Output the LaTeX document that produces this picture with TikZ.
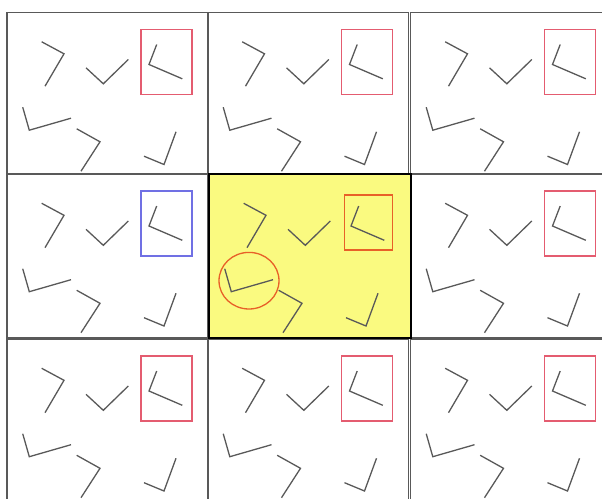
\documentclass[tikz,border=0pt]{standalone}
\usepackage{tikz}

\definecolor{boxred}{RGB}{228,92,112}
\definecolor{boxblue}{RGB}{112,112,228}
\definecolor{hitorange}{RGB}{232,96,40}
\definecolor{lightyellow}{RGB}{250,250,128}

\begin{document}
\begin{tikzpicture}[x=1pt, y=-1pt,
      frame/.style={draw=black!65, line width=1.5pt},
      stroke/.style={draw=black!65, line width=1.3pt},
      hitbox/.style={draw=#1, line width=1.3pt},
      scene/.pic={
        % the six bent sticks, same in every panel
        \draw[stroke] (34.7,29.3) -- (57,41.3) -- (38,73.7);
        \draw[stroke] (79,55.3) -- (96.3,71.3) -- (121.3,47);
        \draw[stroke] (149.7,32) -- (142,52) -- (175.3,66.3);
        \draw[stroke] (15.7,94.7) -- (22.3,117.7) -- (64,105.7);
        \draw[stroke] (69.7,116.3) -- (93,129.3) -- (74,158.7);
        \draw[stroke] (169,119.3) -- (157,152) -- (137,143.7);
      }]

    \useasboundingbox (0,0) rectangle (602,498);
    \clip (0,0) rectangle (602,498);

    % Outer ring of eight panels; the one on the left has a blue box
    \foreach \px/\py/\ph/\bc in {7/12.5/161/boxred, 207.5/12.5/161/boxred,
        410.5/12.5/161/boxred, 7/174/164/boxblue, 410.5/174/164/boxred,
        7/339/164/boxred, 207.5/339/164/boxred, 410.5/339/164/boxred} {
      \begin{scope}[shift={(\px,\py)}]
        \draw[frame] (0,0) rectangle (201,\ph);
        \pic at (0,0) {scene};
        \draw[hitbox=\bc] (134,17) rectangle (185,82);
      \end{scope}
    }

    % Centre panel: highlighted, with the matched stick circled
    \begin{scope}[shift={(209,174)}]
      \filldraw[fill=lightyellow, draw=black, line width=1.8pt]
        (0,0) rectangle (202,164);
      \pic at (0,0) {scene};
      \draw[hitbox=hitorange] (135.3,21) rectangle (183.7,76);
      \draw[hitorange, line width=1.3pt] (40,106.7) ellipse (30 and 28.3);
    \end{scope}

\end{tikzpicture}
\end{document}
